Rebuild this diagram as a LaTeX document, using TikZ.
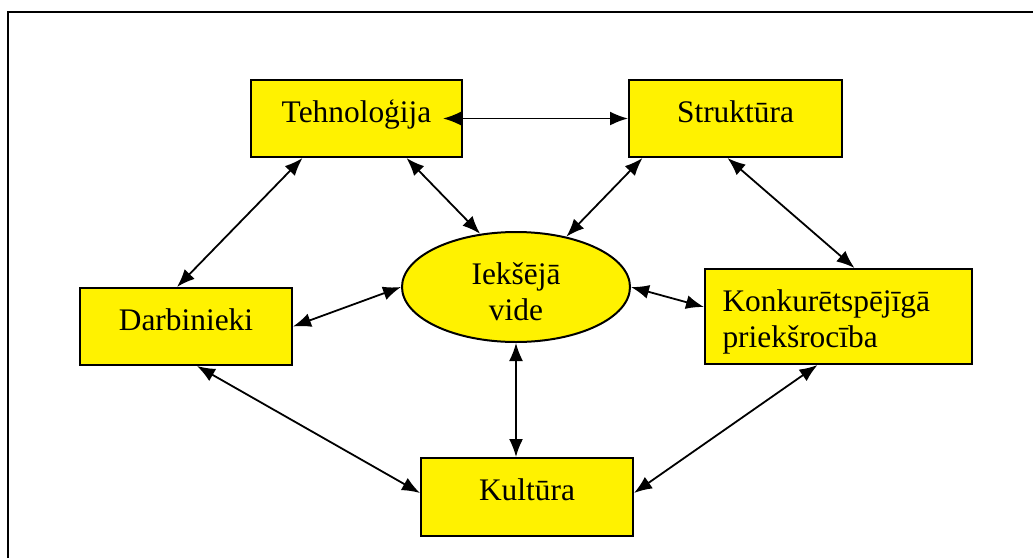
\documentclass[tikz,border=0pt]{standalone}
\usepackage{fontspec}
\setmainfont{Liberation Serif}
\usetikzlibrary{shapes.geometric,arrows.meta,calc}

\tikzset{
    box/.style={draw, line width=1pt, fill=yellow, inner sep=0pt, align=center,
        text height=0.7em, text depth=0.35em},
    bigbox/.style={draw, line width=1pt, fill=yellow, inner sep=0pt},
    link/.style={{Latex[length=9pt,width=7pt]}-{Latex[length=9pt,width=7pt]}, line width=0.9pt},
}

\begin{document}
\begin{tikzpicture}[x=0.5pt, y=-0.5pt, font=\fontsize{15.7}{18}\selectfont]

    \useasboundingbox (0,0) rectangle (1033,558);
    \draw[line width=1.2pt] (8,558) -- (8,12) -- (1033,12); % frame

    % boxes
    \node[box, minimum width=105.5pt, minimum height=38.5pt] (tech) at (356.5,118.5) {Tehnoloģija};
    \node[box, minimum width=106.5pt, minimum height=38.5pt] (struk) at (735.5,118.5) {Struktūra};
    \node[box, minimum width=106pt, minimum height=38.5pt] (darb) at (186,326.5) {Darbinieki};
    \node[bigbox, minimum width=133.5pt, minimum height=47.5pt, text width=116pt, align=left] (konk) at (838.5,316.5) {\rule{0pt}{16pt}Konkurētspējīgā\\priekšrocība};
    \node[box, minimum width=106pt, minimum height=39pt] (kult) at (527,497) {Kultūra};

    % centre
    \node[ellipse, draw, line width=1pt, fill=yellow, inner sep=0pt, align=center,
        minimum width=114pt, minimum height=55pt] (vide) at (516,287) {\rule{0pt}{16pt}Iekšējā\\vide};

    % links
    \draw[link] ($(tech.east)+(-20,0)$) -- (struk.west);
    \draw[link] ($(tech.south)+(-54,0)$) -- ($(darb.north)+(-9,0)$);
    \draw[link] ($(tech.south)+(50,0)$) -- (vide.124);
    \draw[link] ($(struk.south)+(-93,0)$) -- (vide.45);
    \draw[link] ($(struk.south)+(-8,0)$) -- ($(konk.north)+(16,0)$);
    \draw[link] (darb.east) -- (vide.west);
    \draw[link] (vide.east) -- ($(konk.west)+(0,-9.5)$);
    \draw[link] (vide.south) -- (vide.south |- kult.north);
    \draw[link] ($(darb.south)+(11,0)$) -- ($(kult.west)+(0,-4)$);
    \draw[link] ($(kult.east)+(0,-4)$) -- ($(konk.south)+(-21,0)$);
\end{tikzpicture}
\end{document}
